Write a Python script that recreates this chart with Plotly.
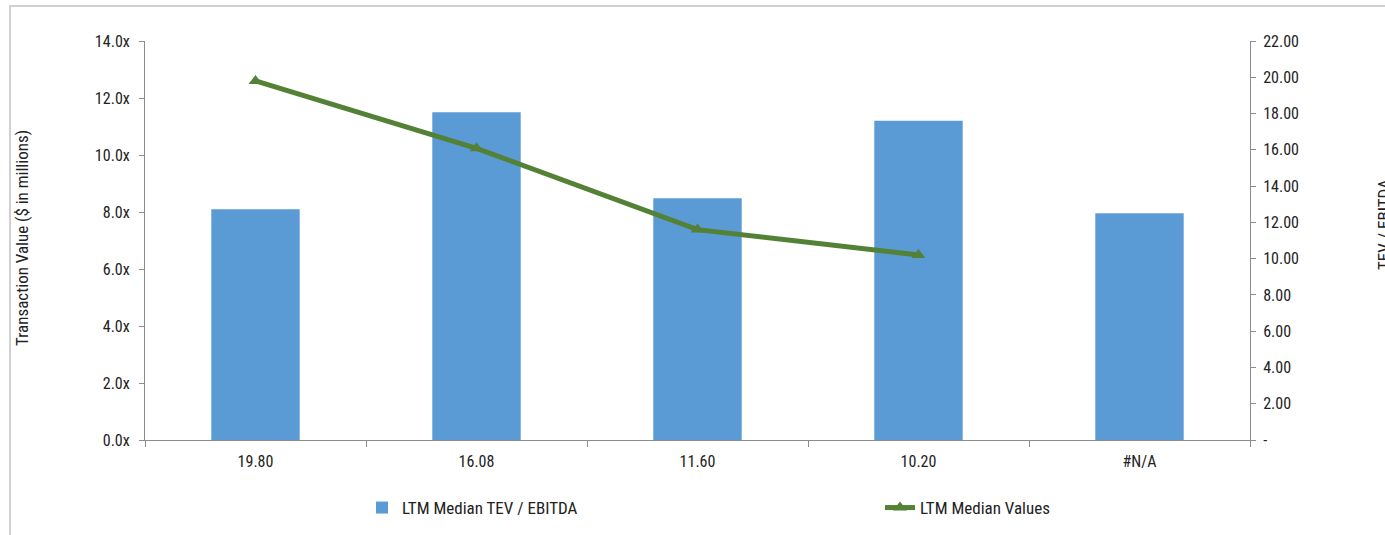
import plotly.graph_objects as go

categories = ["19.80", "16.08", "11.60", "10.20", "#N/A"]
tev_ebitda = [8.1, 11.5, 8.48, 11.2, 7.96]
median_values = [19.80, 16.08, 11.60, 10.20, None]
right_ticks = [0, 2, 4, 6, 8, 10, 12, 14, 16, 18, 20, 22]
right_ticktext = ["-" if v == 0 else f"{v:.2f}" for v in right_ticks]

FONT = "Liberation Sans Narrow, Arial Narrow, Roboto Condensed, Roboto, sans-serif"
AXIS_COLOR = "#8c8c8c"

fig = go.Figure()
fig.add_trace(go.Bar(
    x=categories, y=tev_ebitda, name="LTM Median TEV / EBITDA",
    marker=dict(color="#5B9BD5", line=dict(width=0)), width=0.4, yaxis="y",
    legend="legend",
))
fig.add_trace(go.Scatter(
    x=categories, y=median_values, name="LTM Median Values", yaxis="y2",
    mode="lines+markers",
    line=dict(color="#538135", width=5),
    marker=dict(symbol="triangle-up", size=12, color="#538135"),
    legend="legend2",
))

legend_common = dict(orientation="h", xanchor="left", yanchor="middle",
                     font=dict(size=17), bgcolor="rgba(0,0,0,0)", itemwidth=30)

fig.update_layout(
    width=1385, height=535,
    margin=dict(l=145, r=135, t=41, b=95, autoexpand=False),
    paper_bgcolor="white", plot_bgcolor="white",
    font=dict(family=FONT, size=16, color="#222222"),
    showlegend=True,
    legend=dict(x=(362 - 145) / 1105, y=(440 - 508) / 399, **legend_common),
    legend2=dict(x=(880 - 145) / 1105, y=(440 - 508) / 399, **legend_common),
    xaxis=dict(type="category", showline=True, linecolor=AXIS_COLOR, linewidth=1,
               ticks="outside", tickson="boundaries", ticklen=6, tickcolor=AXIS_COLOR,
               ticklabelstandoff=7,
               showgrid=False, zeroline=False, tickfont=dict(size=16)),
    yaxis=dict(range=[0, 14], dtick=2, tickformat=".1f", ticksuffix="x",
               showline=True, linecolor=AXIS_COLOR, linewidth=1,
               ticks="outside", ticklen=5, tickcolor=AXIS_COLOR,
               ticklabelstandoff=6,
               showgrid=False, zeroline=False, tickfont=dict(size=16)),
    yaxis2=dict(range=[0, 22], overlaying="y", side="right", tickvals=right_ticks,
                ticktext=right_ticktext, showline=True, linecolor=AXIS_COLOR, linewidth=1,
                ticks="outside", ticklen=5, tickcolor=AXIS_COLOR,
                ticklabelstandoff=4,
                showgrid=False, zeroline=False, tickfont=dict(size=16)),
    bargap=0.6,
)

fig.add_annotation(text="Transaction Value ($ in millions)", xref="paper", yref="paper",
                   x=(22 - 145) / 1105, y=(440 - 238) / 399, textangle=-90, showarrow=False,
                   xanchor="center", yanchor="middle", font=dict(size=17))
fig.add_annotation(text="TEV / EBITDA", xref="paper", yref="paper",
                   x=(1384 - 145) / 1105, y=(440 - 225) / 399, textangle=-90, showarrow=False,
                   xanchor="center", yanchor="middle", font=dict(size=17))

fig.add_shape(type="rect", xref="paper", yref="paper",
              x0=(10 - 145) / 1105, x1=(1420 - 145) / 1105,
              y0=(440 - 560) / 399, y1=(440 - 6) / 399,
              line=dict(color="#d0d0d0", width=2), fillcolor="rgba(0,0,0,0)", layer="below")

fig.write_html("out.html")
